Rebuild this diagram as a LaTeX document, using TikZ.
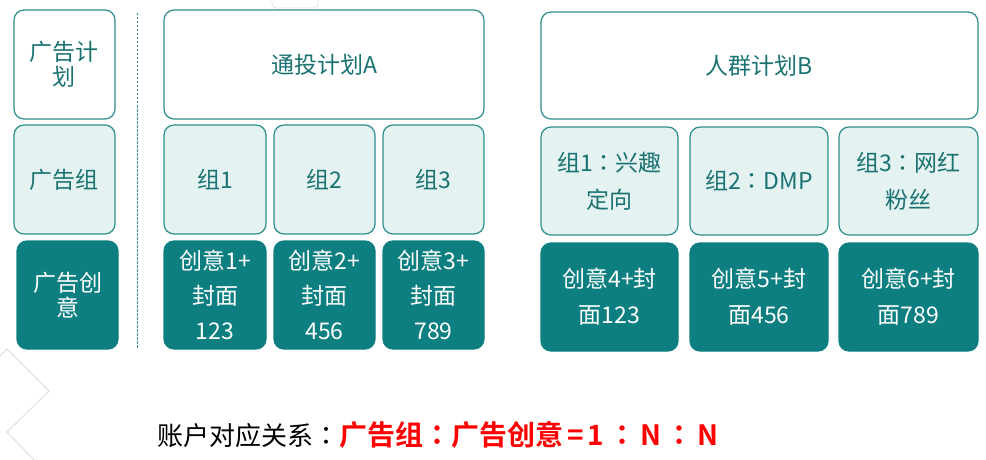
\documentclass[tikz,border=0pt]{standalone}
\usepackage{fontspec}
\setmainfont{Noto Sans CJK SC}
\newfontfamily\cjkbold{Noto Sans CJK SC Bold}
\newfontfamily\jpfont{Noto Sans CJK JP}
\newfontfamily\jpbold{Noto Sans CJK JP Bold}
\newcommand\ccolon{{\jpfont ：}}
\newcommand\bcolon{{\jpbold ：}}
\newcommand\gp{\hspace{4pt}}
\definecolor{tealdark}{HTML}{0E7F80}
\definecolor{tealline}{HTML}{2E8E8E}
\definecolor{tealfill}{HTML}{E4F2F1}
\definecolor{tealtext}{HTML}{1A7272}
\definecolor{redtext}{HTML}{FF0000}
\tikzset{
  base/.style={rounded corners=10pt, line width=1.2pt, inner sep=0pt, outer sep=0pt, align=center},
  wbox/.style={base, draw=tealline, fill=white, text=tealtext, font=\fontsize{23}{25}\selectfont},
  lbox/.style={base, draw=tealline, fill=tealfill, text=tealtext, font=\fontsize{23}{25}\selectfont},
  dbox/.style={base, draw=tealdark, fill=tealdark, text=white, font=\fontsize{23}{25}\selectfont},
}
\begin{document}
\begin{tikzpicture}[x=1pt,y=-1pt]
\useasboundingbox (0,0) rectangle (986,460);
% faint decorations
\draw[draw=black!12, line width=0.8pt, rounded corners=4pt] (272,-10) rectangle (318,8);
\draw[draw=black!15, line width=0.8pt] (0,356) -- (7,349) -- (49,391) -- (7,432) -- (35,461);
% left legend column
\node[wbox, minimum width=101, minimum height=109] (lp) at (64.5,64.5) {广告计\\划};
\node[lbox, minimum width=101, minimum height=109] (lg) at (64.5,179.5) {广告组};
\node[dbox, minimum width=101, minimum height=108] (lc) at (67.5,295) {广告创\\意};
% separator
\coordinate (s1) at (137,13);
\coordinate (s2) at (137,349);
\draw[tealline, line width=1pt, dash pattern=on 2.5pt off 1.5pt] (s1) -- (s2);
% plan A
\node[wbox, minimum width=320, minimum height=109] (pa) at (324,64.5) {通投计划A};
\node[lbox, minimum width=102, minimum height=109] (g1) at (215,179.5) {组1};
\node[lbox, minimum width=101, minimum height=109] (g2) at (324.5,179.5) {组2};
\node[lbox, minimum width=101, minimum height=109] (g3) at (433.5,179.5) {组3};
\node[dbox, minimum width=102, minimum height=108, font=\fontsize{23}{35}\selectfont] (c1) at (215,295) {创意1+\\封面\\123};
\node[dbox, minimum width=101, minimum height=108, font=\fontsize{23}{35}\selectfont] (c2) at (324.5,295) {创意2+\\封面\\456};
\node[dbox, minimum width=101, minimum height=108, font=\fontsize{23}{35}\selectfont] (c3) at (433.5,295) {创意3+\\封面\\789};
% plan B
\node[wbox, minimum width=437, minimum height=107] (pb) at (759.5,65.5) {人群计划B};
\node[lbox, minimum width=137, minimum height=108, font=\fontsize{23}{37}\selectfont] (h1) at (609.5,181) {组1\ccolon 兴趣\\定向};
\node[lbox, minimum width=138, minimum height=108] (h2) at (759,181) {组2\ccolon DMP};
\node[lbox, minimum width=139, minimum height=108, font=\fontsize{23}{37}\selectfont] (h3) at (908.5,181) {组3\ccolon 网红\\粉丝};
\node[dbox, minimum width=137, minimum height=108, font=\fontsize{23}{36}\selectfont] (d1) at (609.5,297) {创意4+封\\面123};
\node[dbox, minimum width=138, minimum height=108, font=\fontsize{23}{36}\selectfont] (d2) at (759,297) {创意5+封\\面456};
\node[dbox, minimum width=139, minimum height=108, font=\fontsize{23}{36}\selectfont] (d3) at (908.5,297) {创意6+封\\面789};
% bottom caption
\node[anchor=base west, inner sep=0pt, font=\fontsize{26}{30}\selectfont] (cap) at (157,445) {账户对应关系\ccolon\textcolor{redtext}{\fontsize{28}{30}\selectfont\cjkbold 广告组\bcolon 广告创意\gp=\gp 1\gp\bcolon\gp N\gp\bcolon\gp N}};
\end{tikzpicture}
\end{document}
